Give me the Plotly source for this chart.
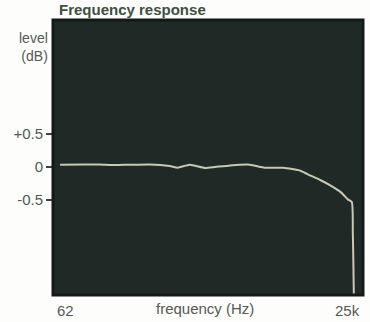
import plotly.graph_objects as go

# Data
freq_hz = [62, 100, 138, 187, 255, 384, 578, 680, 869, 1184, 1452, 1973, 2853,
           4038, 5841, 8270, 10160, 12470, 15290, 18760, 21660, 23500, 23990,
           24260, 24500]
level_db = [0.035, 0.04, 0.04, 0.03, 0.035, 0.04, 0.015, -0.01, 0.035, -0.015,
            0.0, 0.025, 0.04, -0.01, -0.01, -0.055, -0.13, -0.2, -0.28, -0.38,
            -0.49, -0.53, -1.0, -1.45, -1.95]
y_tick_vals = [0.5, 0, -0.5]
y_tick_text = ["+0.5", "0", "-0.5"]
x_tick_vals = [62, 25000]
x_tick_text = ["62", "25k"]

txt = "#4f5a50"
lab = "#555a55"
fig = go.Figure()
fig.add_trace(go.Scatter(x=freq_hz, y=level_db, mode="lines",
                         line=dict(color="#c8c8b3", width=2, shape="spline",
                                   smoothing=0.5),
                         hoverinfo="skip"))

fig.update_layout(
    width=370, height=322,
    margin=dict(l=53, r=7, t=20, b=27, autoexpand=False),
    paper_bgcolor="#fdfdfb", plot_bgcolor="#1f2a27",
    showlegend=False,
    font=dict(family="Liberation Sans, Arial, sans-serif", size=14, color=txt),
)
fig.update_xaxes(type="log", range=[1.73, 4.47], showgrid=False, zeroline=False,
                 tickvals=x_tick_vals, ticktext=["", ""], ticks="",
                 automargin=False)
fig.update_yaxes(range=[-1.94, 2.23], showgrid=False, zeroline=False,
                 tickvals=y_tick_vals, ticktext=y_tick_text, ticks="outside",
                 ticklen=6, tickwidth=2, tickcolor="#3d443e",
                 tickfont=dict(size=15, color=txt), automargin=False)
fig.add_shape(type="rect", xref="paper", yref="paper", x0=0, x1=1, y0=0, y1=1,
              line=dict(color="#121a17", width=3))
fig.add_annotation(text=x_tick_text[0], xref="paper", yref="paper", x=0.006,
                   y=0, xanchor="left", yanchor="top", yshift=-5,
                   showarrow=False, font=dict(size=15, color=lab))
fig.add_annotation(text=x_tick_text[1], xref="paper", yref="paper", x=1.0,
                   y=0, xanchor="right", yanchor="top", yshift=-5, xshift=-1,
                   showarrow=False, font=dict(size=15, color=lab))
fig.add_annotation(text="<b>Frequency response</b>", xref="paper", yref="paper",
                   x=0.012, y=1.0, xanchor="left", yanchor="bottom", yshift=0,
                   showarrow=False, font=dict(size=15, color="#3e5040"))
fig.add_annotation(text="level<br>(dB)", xref="paper", yref="paper", x=0,
                   y=0.97, xanchor="right", yanchor="top", xshift=-3,
                   align="right", showarrow=False,
                   font=dict(size=14, color=lab))
fig.add_annotation(text="frequency (Hz)", xref="paper", yref="paper", x=0.49,
                   y=0, xanchor="center", yanchor="top", yshift=-3,
                   showarrow=False, font=dict(size=15, color=lab))
fig.write_html("out.html", config={"displayModeBar": False},
               post_script="document.body.style.margin='0';"
                           "document.body.style.overflow='hidden';")
